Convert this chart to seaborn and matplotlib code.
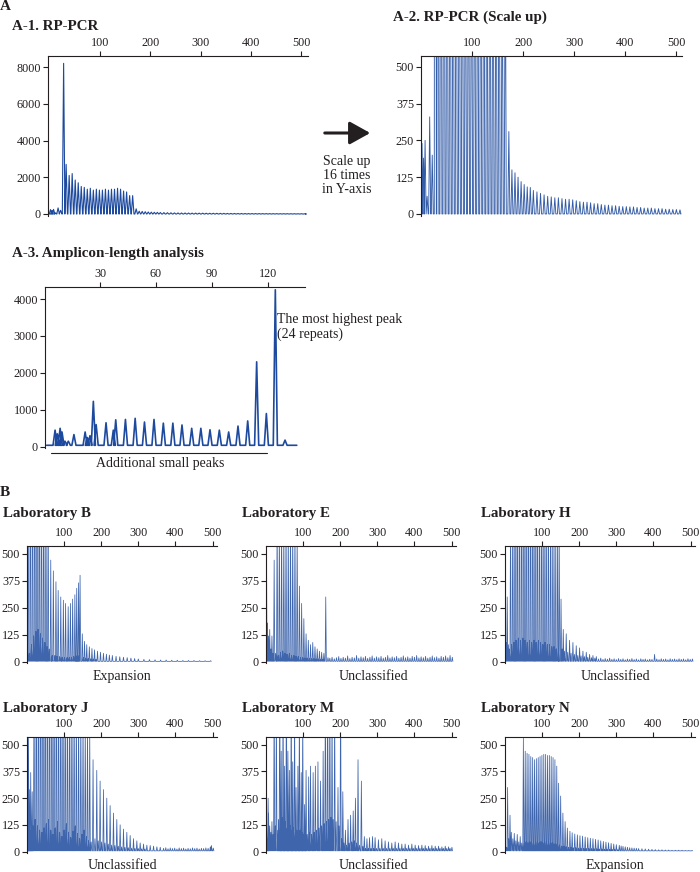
import matplotlib
matplotlib.use("Agg")
import matplotlib.pyplot as plt
from matplotlib.lines import Line2D
import numpy as np
import pandas as pd
import seaborn as sns

sns.set_theme(style="white")
plt.rcParams["font.family"] = ["Liberation Serif", "DejaVu Serif"]

# ---------------- data (peak position in bp, peak height in RFU) ----------------
rp_pcr_peaks = [
    (2, 240), (5, 190), (8, 250), (12, 60), (17, 330), (22, 200), (28, 8200), (33, 2700),
    (39, 2100), (45, 2200), (51, 1850), (57, 1700), (63, 1500), (69, 1450), (75, 1350),
    (81, 1400), (87, 1300), (93, 1350), (99, 1300), (105, 1300), (111, 1350), (117, 1300),
    (123, 1350), (129, 1350), (135, 1400), (141, 1350), (147, 1250), (153, 1200), (159, 1000),
    (165, 1000), (172, 280), (178, 150), (184, 140), (190, 125), (196, 110), (202, 100),
    (208, 92), (214, 90), (220, 80), (227, 75), (234, 70), (241, 65), (248, 60), (255, 58),
    (262, 55), (269, 55), (276, 52), (283, 50), (290, 50), (297, 48), (304, 45), (311, 42),
    (318, 40), (325, 40), (332, 38), (339, 35), (346, 35), (353, 32), (360, 30), (367, 30),
    (374, 28), (381, 28), (388, 26), (395, 25), (402, 25), (409, 24), (416, 24), (423, 22),
    (430, 22), (437, 20), (444, 20), (451, 20), (458, 18), (465, 18), (472, 18), (479, 16),
    (486, 16), (493, 15), (500, 15), (507, 14),
]
rp_pcr_span = (1, 508)

amplicon_peaks = [
    (5.9, 450), (7.1, 350), (8.6, 500), (9.6, 400), (11.2, 150), (13.0, 150), (16.0, 330),
    (22.0, 400), (23.2, 250), (24.6, 300), (26.4, 1230), (27.9, 600), (33.2, 650),
    (37.1, 450), (38.4, 730), (43.6, 740), (48.8, 770), (53.8, 670), (58.9, 740),
    (63.9, 640), (69.0, 640), (73.9, 590), (79.1, 500), (84.0, 500), (88.9, 460),
    (93.9, 450), (98.9, 400), (103.9, 560), (109.1, 700), (113.9, 2300), (119.1, 900),
    (123.9, 4250), (129.1, 180),
]
amplicon_span = (1.4, 135.4)
amplicon_baseline = 40

lab_b_peaks = [
    (3, 900), (6, 40), (9, 1200), (12, 80), (15, 1500), (18, 120), (21, 1600), (24, 140),
    (27, 1500), (30, 150), (33, 1400), (36, 130), (39, 1300), (42, 110), (45, 1100), (48, 90),
    (51, 900), (54, 70), (57, 800), (60, 60), (64, 470), (68, 30), (71, 420), (75, 30),
    (78, 370), (81, 25), (84, 330), (88, 25), (91, 300), (95, 22), (98, 285), (101, 20),
    (104, 270), (108, 20), (111, 255), (114, 20), (117, 270), (120, 22), (123, 290), (126, 25),
    (129, 310), (132, 28), (134, 340), (137, 30), (139, 365), (143, 400), (149, 130), (152, 20),
    (155, 95), (158, 18), (161, 80), (165, 16), (168, 70), (172, 15), (175, 62), (179, 14),
    (182, 56), (186, 13), (190, 50), (198, 45), (206, 40), (214, 36), (222, 32), (230, 30),
    (240, 26), (250, 24), (260, 22), (270, 20), (280, 18), (290, 16), (300, 14), (315, 12),
    (330, 11), (345, 10), (360, 9), (375, 9), (390, 8), (405, 8), (420, 7), (435, 7),
    (450, 7), (465, 6), (480, 6), (495, 6),
]

lab_e_peaks = [
    (1, 700), (4, 180), (7, 120), (10, 150), (13, 60), (16, 120), (19, 40), (22, 470),
    (26, 40), (30, 700), (33, 30), (36, 650), (39, 45), (42, 700), (45, 50), (48, 650),
    (51, 40), (54, 700), (57, 35), (60, 650), (63, 40), (66, 700), (69, 30), (72, 650),
    (75, 30), (78, 650), (81, 25), (84, 600), (87, 25), (90, 350), (93, 20), (96, 270),
    (99, 20), (102, 200), (105, 18), (108, 130), (111, 18), (114, 100), (117, 16), (120, 80),
    (123, 15), (126, 90), (129, 15), (132, 70), (135, 14), (138, 60), (141, 14), (144, 50),
    (147, 13), (150, 45), (153, 13), (156, 40), (161, 300), (167, 20),
    (172, 18), (178, 22), (184, 15), (190, 20), (196, 25), (202, 17), (208, 22), (214, 18),
    (220, 28), (226, 16), (232, 22), (238, 19), (244, 30), (250, 18), (256, 24), (262, 20),
    (268, 26), (274, 17), (280, 22), (286, 28), (292, 18), (298, 24), (304, 20), (310, 26),
    (316, 18), (322, 22), (328, 30), (334, 19), (340, 24), (346, 20), (352, 26), (358, 18),
    (364, 22), (370, 28), (376, 20), (382, 24), (388, 18), (394, 26), (400, 22), (406, 30),
    (412, 19), (418, 24), (424, 20), (430, 26), (436, 18), (442, 22), (448, 28), (454, 20),
    (460, 24), (466, 18), (472, 26), (478, 22), (484, 28), (490, 20), (496, 30), (502, 22),
]

lab_h_peaks = [
    (3, 90), (6, 300), (9, 80), (12, 60), (15, 700), (18, 80), (21, 900), (24, 90),
    (27, 1100), (30, 100), (33, 1200), (36, 110), (39, 1200), (42, 100), (45, 1300), (48, 110),
    (51, 1300), (54, 100), (57, 1200), (60, 90), (63, 1300), (66, 100), (69, 1200), (72, 90),
    (75, 1200), (78, 100), (81, 1100), (84, 90), (87, 1200), (90, 100), (93, 1100), (96, 90),
    (99, 1100), (102, 80), (105, 1000), (108, 90), (111, 1000), (114, 80), (117, 900),
    (120, 80), (123, 900), (126, 70), (129, 800), (132, 70), (135, 800), (138, 60),
    (141, 700), (144, 60), (146, 650), (151, 290), (154, 60), (157, 150), (160, 50),
    (165, 130), (169, 45), (174, 100), (178, 40), (183, 90), (187, 35), (192, 75), (196, 30),
    (201, 65), (205, 28), (210, 50), (214, 25), (219, 45), (223, 22), (228, 35), (233, 20),
    (237, 30), (242, 18), (246, 25), (252, 14), (258, 18), (264, 12), (270, 16), (276, 13),
    (282, 18), (288, 12), (294, 15), (300, 11), (306, 16), (312, 12), (318, 15), (324, 10),
    (330, 14), (336, 12), (342, 16), (348, 11), (354, 14), (360, 10), (366, 15), (372, 12),
    (378, 14), (384, 10), (390, 13), (396, 12), (403, 35), (409, 14), (415, 11), (421, 15),
    (427, 12), (433, 14), (439, 10), (445, 15), (451, 12), (457, 14), (463, 11), (469, 15),
    (475, 12), (481, 14), (487, 10), (493, 15), (499, 12), (505, 14),
]

lab_j_peaks = [
    (3, 90), (4, 530), (6, 290), (8, 100), (10, 370), (12, 80), (14, 280), (16, 120),
    (19, 900), (22, 150), (25, 1200), (28, 120), (31, 1400), (34, 100), (37, 1500), (40, 90),
    (43, 1500), (46, 110), (49, 1400), (52, 130), (55, 1400), (58, 150), (61, 1300), (64, 100),
    (67, 1300), (70, 80), (73, 1200), (76, 110), (79, 1200), (82, 140), (85, 1100), (88, 90),
    (91, 1100), (94, 70), (97, 1000), (100, 100), (103, 1000), (106, 130), (109, 900),
    (112, 90), (115, 900), (118, 65), (121, 850), (124, 95), (127, 800), (130, 120),
    (133, 750), (136, 85), (139, 700), (142, 60), (145, 700), (148, 80), (151, 650),
    (154, 100), (157, 620), (160, 70), (163, 600), (166, 50), (169, 580), (173, 45),
    (178, 430), (183, 60), (188, 380), (192, 50), (197, 330), (201, 45), (206, 290),
    (210, 40), (215, 250), (219, 35), (224, 215), (228, 30), (233, 180), (237, 28),
    (242, 150), (246, 25), (251, 125), (255, 22), (260, 105), (264, 20), (269, 90), (273, 18),
    (278, 75), (282, 16), (287, 60), (291, 15), (296, 50), (300, 14), (305, 40), (309, 13),
    (314, 35), (318, 12), (323, 30), (332, 28), (341, 25), (350, 22), (359, 20), (368, 15),
    (374, 18), (380, 13), (386, 17), (392, 14), (398, 16), (404, 12), (410, 17), (416, 14),
    (422, 16), (428, 12), (434, 15), (440, 13), (446, 17), (452, 14), (458, 16), (464, 12),
    (470, 15), (476, 14), (482, 17), (488, 15), (494, 22), (497, 28), (502, 16),
]

lab_m_peaks = [
    (3, 60), (5.7, 250), (7, 180), (10, 120), (13, 90), (16, 140), (19, 80), (22, 800),
    (25, 120), (28, 700), (32, 100), (34, 150), (37, 900), (39, 130), (41, 470), (43, 160),
    (46, 800), (48, 120), (50, 400), (52, 140), (55, 900), (57, 110), (59, 470), (61, 130),
    (63, 380), (66, 120), (68, 800), (70, 100), (72, 420), (74, 110), (77, 700), (79, 90),
    (81, 300), (83, 100), (86, 400), (88, 90), (90, 700), (92, 100), (95, 370), (97, 90),
    (99, 650), (101, 80), (104, 220), (106, 90), (108, 380), (111, 80), (115, 350), (117, 90),
    (120, 400), (123, 80), (127, 370), (130, 90), (133, 400), (136, 100), (140, 420),
    (143, 110), (147, 330), (150, 120), (154, 470), (157, 130), (160, 800), (163, 140),
    (166, 900), (169, 150), (172, 800), (175, 160), (178, 700), (181, 150), (185, 700),
    (189, 140), (194, 300), (197, 120), (201, 800), (204, 60), (207, 280), (210, 40),
    (214, 100), (217, 30), (221, 150), (224, 40), (228, 170), (231, 45), (235, 190),
    (238, 50), (241, 250), (244, 40), (248, 430), (252, 30), (257, 330), (261, 25),
    (265, 70), (268, 15), (272, 60), (276, 15), (279, 65), (283, 15), (287, 70), (290, 15),
    (294, 65), (298, 15), (303, 55), (307, 15), (312, 60), (316, 15), (321, 50), (325, 15),
    (330, 45), (334, 15), (339, 40), (343, 15), (348, 45), (352, 15), (357, 40), (361, 15),
    (366, 35), (370, 15), (375, 35), (379, 15), (384, 30), (388, 15), (393, 35), (397, 15),
    (402, 30), (406, 15), (411, 28), (415, 15), (420, 30), (424, 15), (429, 28), (433, 15),
    (438, 25), (442, 15), (447, 28), (451, 15), (456, 25), (460, 15), (465, 25), (469, 15),
    (474, 22), (478, 15), (483, 25), (487, 15), (492, 22), (496, 15), (501, 20),
]

lab_n_peaks = [
    (4.5, 20), (7, 300), (10, 60), (13.5, 170), (17, 90), (21, 60), (25, 85), (29, 50),
    (33, 80), (37, 45), (41, 70), (45, 40), (49.5, 530), (52, 40), (54.5, 470), (57, 45),
    (59.5, 460), (62, 40), (64.5, 455), (67, 45), (69.5, 445), (72, 40), (74.5, 440), (77, 45),
    (79.5, 430), (82, 40), (84.5, 435), (87, 45), (89.5, 440), (92, 40), (94.5, 445), (97, 45),
    (99.5, 450), (102, 40), (104.5, 455), (107, 45), (109.5, 455), (112, 40), (114.5, 450),
    (117, 45), (119.5, 450), (122, 40), (124.5, 445), (127, 40), (129.5, 440), (132, 35),
    (134.5, 430), (137, 35), (139.5, 400), (142, 30), (144.5, 320), (147, 30), (150, 260),
    (153, 25), (156, 180), (159, 25), (162, 140), (165, 22), (168, 110), (171, 20), (175, 95),
    (178, 20), (181, 88), (184, 18), (188, 82), (191, 18), (195, 78), (198, 16), (202, 74),
    (205, 16), (209, 72), (212, 15), (216, 68), (219, 15), (223, 65), (226, 14), (230, 62),
    (233, 14), (237, 60), (240, 13), (244, 57), (247, 13), (251, 54), (254, 12), (258, 50),
    (261, 12), (265, 47), (268, 11), (272, 44), (275, 11), (279, 41), (282, 10), (286, 38),
    (289, 10), (293, 35), (296, 9), (300, 32), (304, 9), (308, 29), (313, 26), (318, 24),
    (324, 22), (330, 20), (336, 18), (342, 17), (348, 16), (354, 15), (360, 14), (369, 13),
    (378, 12), (387, 11), (396, 10), (405, 9), (414, 8), (423, 8), (432, 7), (441, 7),
    (450, 6), (459, 6), (468, 6), (477, 6), (486, 5), (495, 5), (504, 5),
]

labs = ["Laboratory B", "Laboratory E", "Laboratory H",
        "Laboratory J", "Laboratory M", "Laboratory N"]
lab_peaks = [lab_b_peaks, lab_e_peaks, lab_h_peaks, lab_j_peaks, lab_m_peaks, lab_n_peaks]
lab_class = ["Expansion", "Unclassified", "Unclassified",
             "Unclassified", "Unclassified", "Expansion"]

bp_ticks = [100, 200, 300, 400, 500]
rp_yticks = [0, 2000, 4000, 6000, 8000]
scaled_yticks = [0, 125, 250, 375, 500]
amp_xticks = [30, 60, 90, 120]
amp_yticks = [0, 1000, 2000, 3000, 4000]

# ---------------- layout helpers ----------------
W, H = 700, 872
fig = plt.figure(figsize=(W / 100, H / 100), dpi=100)
TRACE = "#1d4a9e"
INK = "#231f20"


def px_axes(l, t, r, b):
    return fig.add_axes([l / W, 1 - b / H, (r - l) / W, (b - t) / H])


def ftext(x, y, s, **kw):
    kw.setdefault("color", INK)
    fig.text(x / W, 1 - y / H, s, **kw)


def trace_frame(peaks, hw, base=0.0, span=None):
    xs, ys = [], []
    if span is not None:
        xs.append(span[0]); ys.append(base)
    for p, h in peaks:
        xs += [p - hw, p, p + hw]
        ys += [base, h, base]
    if span is not None:
        xs.append(span[1]); ys.append(base)
    return pd.DataFrame({"x": xs, "y": ys})


def draw(ax, df, lw, alpha=1.0):
    sns.lineplot(data=df, x="x", y="y", estimator=None, sort=False,
                 color=TRACE, lw=lw, alpha=alpha, ax=ax)


def style(ax, xlim, ylim, xticks, yticks):
    ax.set_xlim(*xlim)
    ax.set_ylim(*ylim)
    ax.set_facecolor("none")
    ax.grid(False)
    for s in ["right", "bottom"]:
        ax.spines[s].set_visible(False)
    for s in ["left", "top"]:
        ax.spines[s].set_visible(True)
        ax.spines[s].set_color(INK)
        ax.spines[s].set_linewidth(0.8)
    ax.set_xticks(xticks)
    ax.set_yticks(yticks)
    ax.tick_params(axis="x", top=True, labeltop=True, bottom=False, labelbottom=False)
    ax.tick_params(axis="y", left=True, labelleft=True, right=False)
    ax.tick_params(axis="both", direction="out", length=3.5, width=0.8, color=INK,
                   labelsize=8.7, labelcolor=INK, pad=1.5)
    ax.set_xlabel("")
    ax.set_ylabel("")


TITLE = dict(fontsize=10.8, fontweight="bold", va="center", ha="left")
NOTE = dict(fontsize=10, va="center")

# ---------------- panel A ----------------
ftext(0, 7, "A", fontsize=11, fontweight="bold", va="center", ha="left")

# A-1
ax1 = px_axes(48, 56, 308, 216)
draw(ax1, trace_frame(rp_pcr_peaks, 2.6, 0, rp_pcr_span), 0.8)
style(ax1, (-3, 513), (-109, 8600), bp_ticks, rp_yticks)
ftext(12, 27, "A-1. RP-PCR", **TITLE)

# A-2
ax2 = px_axes(421, 56, 682, 216)
draw(ax2, trace_frame(rp_pcr_peaks, 2.0, 0, rp_pcr_span), 0.65, 0.9)
style(ax2, (0, 511), (-7, 537), bp_ticks, scaled_yticks)
ftext(393, 17, "A-2. RP-PCR (Scale up)", **TITLE)

fig.add_artist(matplotlib.patches.FancyArrowPatch(
    (322 / W, 1 - 133 / H), (373 / W, 1 - 133 / H), transform=fig.transFigure,
    arrowstyle="-|>,head_length=0.9,head_width=0.5", mutation_scale=14,
    lw=2.2, color=INK))
ftext(347, 175.5, "Scale up\n16 times\nin Y-axis", ha="center", multialignment="center",
      linespacing=1.12, fontsize=10, va="center")

# A-3
ax3 = px_axes(45, 287, 305, 447.5)
draw(ax3, trace_frame(amplicon_peaks, 1.1, amplicon_baseline, amplicon_span), 1.2)
style(ax3, (0.5, 139.8), (-20, 4326), amp_xticks, amp_yticks)
ftext(12, 253, "A-3. Amplicon-length analysis", **TITLE)
ftext(277, 327, "The most highest peak\n(24 repeats)", ha="left", linespacing=1.12, **NOTE)
fig.add_artist(Line2D([51 / W, 267 / W], [1 - 453.5 / H] * 2, color=INK, lw=0.8))
ftext(160, 463, "Additional small peaks", ha="center", **NOTE)

# ---------------- panel B ----------------
ftext(0, 492, "B", fontsize=11, fontweight="bold", va="center", ha="left")

col_left = [27, 266, 505]
row_top = [546, 737.3]
row_bottom = [663.5, 853]
row_title = [514, 708]
row_class = [676, 865]
class_x = [122, 373, 615]

for i, (name, peaks, cls) in enumerate(zip(labs, lab_peaks, lab_class)):
    r, c = divmod(i, 3)
    l = col_left[c]
    ax = px_axes(l, row_top[r], l + 190, row_bottom[r])
    draw(ax, trace_frame(peaks, 1.6, 3), 0.55, 0.85)
    style(ax, (0, 512), (-7, 535), bp_ticks, scaled_yticks)
    ftext(l - 24, row_title[r], name, **TITLE)
    ftext(class_x[c], row_class[r], cls, ha="center", **NOTE)

fig.savefig("out.png", dpi=100)
